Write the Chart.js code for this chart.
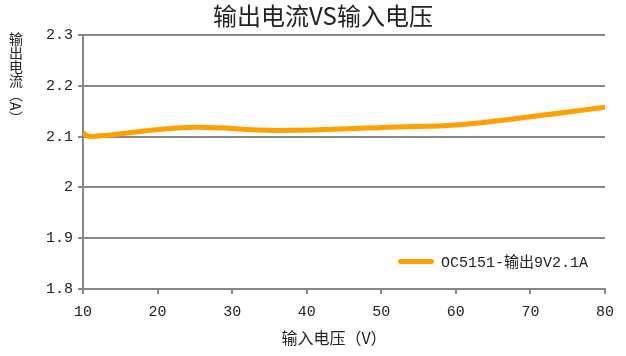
<!DOCTYPE html>
<html>
<head>
<meta charset="utf-8">
<script src="https://cdn.jsdelivr.net/npm/chart.js@4/dist/chart.umd.min.js"></script>
<style>
  html, body { margin: 0; padding: 0; background: #fff; }
  #wrap { position: relative; width: 626px; height: 356px; }
  canvas { position: absolute; left: 0; top: 0; }
  #ytitle {
    position: absolute; left: 8px; top: 32px;
    writing-mode: vertical-rl;
    font-family: "Noto Sans CJK SC", sans-serif; font-size: 14px; color: #222;
    line-height: 16px;
  }
  #legend {
    position: absolute; left: 398px; top: 252px; height: 18px;
    display: flex; align-items: center;
    font-family: "Liberation Mono", "Noto Sans CJK SC", monospace; font-size: 15px; color: #222;
  }
  #legend .sw { width: 36px; height: 5px; border-radius: 3px; background: #FFA000; margin-right: 7px; }
</style>
</head>
<body>
<div id="wrap">
  <canvas id="c" width="626" height="356"></canvas>
  <div id="ytitle">输出电流（A）</div>
  <div id="legend"><span class="sw"></span><span id="legtext"></span></div>
</div>
<script>
const chartTitle = '输出电流VS输入电压';
const xTitle = '输入电压（V）';
const seriesName = 'OC5151-输出9V2.1A';
const inputVoltage = [10, 11, 24, 36, 52, 60, 70, 80];
const outputCurrent = [2.107, 2.100, 2.118, 2.112, 2.119, 2.123, 2.139, 2.158];
const xTicks = [10, 20, 30, 40, 50, 60, 70, 80];
const yTicks = [1.8, 1.9, 2.0, 2.1, 2.2, 2.3];

document.getElementById('legtext').textContent = seriesName;

const gridColor = '#878787';
const cjkFont = '"Noto Sans CJK SC", sans-serif';
const tickFont = '"Liberation Mono", "Noto Sans CJK SC", monospace';

const titlesPlugin = {
  id: 'titlesPlugin',
  afterDraw(chart) {
    const ctx = chart.ctx;
    ctx.save();
    ctx.fillStyle = '#222';
    ctx.textAlign = 'center';
    ctx.textBaseline = 'middle';
    ctx.font = '24px ' + cjkFont;
    ctx.fillText(chartTitle, 323, 16);
    ctx.font = '16px ' + cjkFont;
    ctx.fillText(xTitle, 334, 338);
    ctx.restore();
  }
};

new Chart(document.getElementById('c'), {
  type: 'line',
  data: {
    datasets: [{
      label: seriesName,
      data: inputVoltage.map((v, i) => ({ x: v, y: outputCurrent[i] })),
      borderColor: '#FFA000',
      backgroundColor: '#FFA000',
      borderWidth: 5,
      pointRadius: 0,
      tension: 0.4,
      fill: false
    }]
  },
  options: {
    responsive: false,
    animation: false,
    layout: { padding: { left: 20, right: 21, top: 35, bottom: 0 } },
    plugins: {
      legend: { display: false },
      tooltip: { enabled: false },
      title: { display: false }
    },
    scales: {
      x: {
        type: 'linear',
        min: 10, max: 80,
        afterBuildTicks(scale) { scale.ticks = xTicks.map(v => ({ value: v })); },
        afterFit(scale) { scale.height = 67; },
        grid: { drawOnChartArea: false, drawTicks: true, tickLength: 5, color: gridColor, lineWidth: 2 },
        border: { display: true, color: gridColor, width: 2 },
        ticks: { color: '#222', font: { family: tickFont, size: 15 }, padding: 9, maxRotation: 0 }
      },
      y: {
        min: 1.8, max: 2.3,
        afterBuildTicks(scale) { scale.ticks = yTicks.map(v => ({ value: v })); },
        afterFit(scale) { scale.width = 63; },
        grid: { drawOnChartArea: true, drawTicks: true, tickLength: 5, color: gridColor, lineWidth: 2 },
        border: { display: true, color: gridColor, width: 2 },
        ticks: {
          color: '#222', font: { family: tickFont, size: 15 }, padding: 5,
          callback: v => String(Math.round(v * 10) / 10)
        }
      }
    }
  },
  plugins: [titlesPlugin]
});
</script>
</body>
</html>
